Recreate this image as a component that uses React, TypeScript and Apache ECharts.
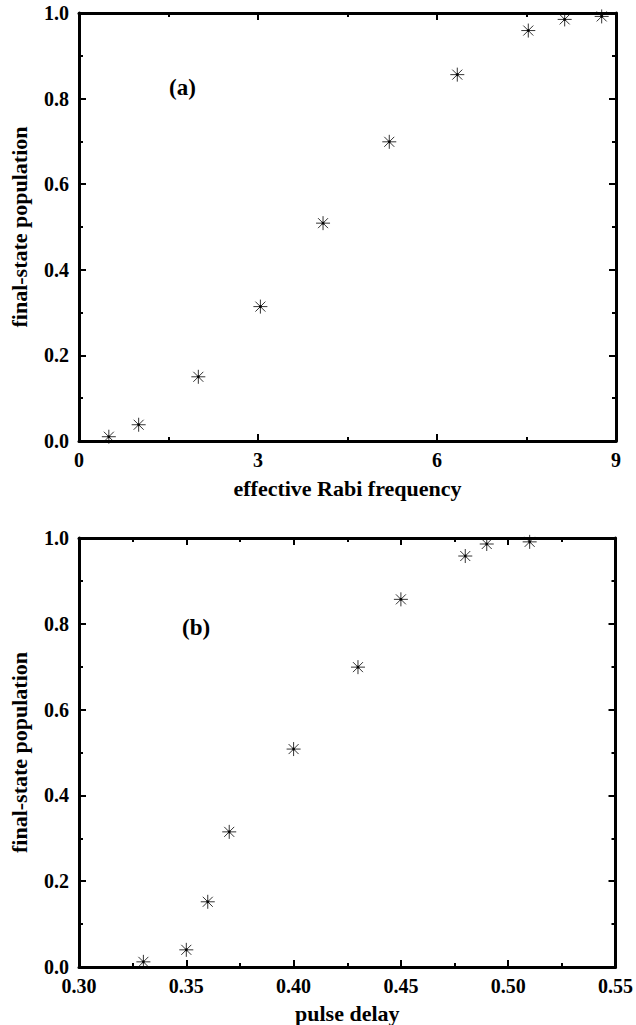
import React, { useEffect, useRef } from "react";
import * as echarts from "echarts";

// Panel (a): effective Rabi frequency vs final-state population
const rabiFrequency = [0.5, 1.0, 2.0, 3.04, 4.09, 5.2, 6.34, 7.53, 8.14, 8.76];
const populationA = [0.01, 0.038, 0.15, 0.314, 0.509, 0.699, 0.856, 0.959, 0.985, 0.992];

// Panel (b): pulse delay vs final-state population
const pulseDelay = [0.33, 0.35, 0.36, 0.37, 0.4, 0.43, 0.45, 0.48, 0.49, 0.51];
const populationB = [0.012, 0.04, 0.152, 0.315, 0.508, 0.699, 0.857, 0.958, 0.986, 0.991];

const xTicksA = { min: 0, max: 9, interval: 3 };
const xTicksB = { min: 0.3, max: 0.55, interval: 0.05 };
const yTicks = { min: 0, max: 1, interval: 0.2 };

const FONT = "'Liberation Serif', 'Times New Roman', serif";
const STAR = "path://M0,-7L0,7M-7,0L7,0M-5,-5L5,5M-5,5L5,-5";

export default function App() {
  const ref = useRef<HTMLDivElement>(null);

  useEffect(() => {
    document.body.style.margin = "0";
    if (!ref.current) return;
    const chart = echarts.init(ref.current, undefined, { renderer: "svg" });

    const axisLine = { show: true, onZero: false, lineStyle: { color: "#000", width: 3 } };
    const axisTick = { show: true, inside: true, length: 7, lineStyle: { color: "#000", width: 2 } };
    const minorTick = { show: true, splitNumber: 2, length: 4, lineStyle: { color: "#000", width: 2 } };
    const label = { color: "#000", fontFamily: FONT, fontWeight: "bold" as const, fontSize: 20 };
    const nameStyle = { color: "#000", fontFamily: FONT, fontWeight: "bold" as const, fontSize: 22 };

    const xAxisBase = (gi: number, t: any, pos: string, show: boolean, fmt?: (v: number) => string, name?: string, gap?: number) => ({
      type: "value",
      gridIndex: gi,
      position: pos,
      min: t.min,
      max: t.max,
      interval: t.interval,
      axisLine,
      axisTick,
      minorTick,
      splitLine: { show: false },
      minorSplitLine: { show: false },
      axisLabel: show ? { ...label, margin: 9, formatter: fmt } : { show: false },
      name: name,
      nameLocation: "middle",
      nameGap: gap,
      nameTextStyle: nameStyle,
    });
    const yAxisBase = (gi: number, pos: string, show: boolean, name?: string) => ({
      type: "value",
      gridIndex: gi,
      position: pos,
      min: yTicks.min,
      max: yTicks.max,
      interval: yTicks.interval,
      axisLine,
      axisTick,
      minorTick,
      splitLine: { show: false },
      minorSplitLine: { show: false },
      axisLabel: show ? { ...label, margin: 10, formatter: (v: number) => v.toFixed(1) } : { show: false },
      name: name,
      nameLocation: "middle",
      nameGap: 49,
      nameTextStyle: nameStyle,
    });

    const starSeries = (xi: number, yi: number, xs: number[], ys: number[]) => [
      {
        type: "scatter",
        xAxisIndex: xi,
        yAxisIndex: yi,
        data: xs.map((x, i) => [x, ys[i]]),
        symbol: STAR,
        symbolSize: 14,
        itemStyle: { color: "rgba(0,0,0,0)", borderColor: "#000", borderWidth: 1 },
        silent: true,
      },
      {
        type: "scatter",
        xAxisIndex: xi,
        yAxisIndex: yi,
        data: xs.map((x, i) => [x, ys[i]]),
        symbol: "circle",
        symbolSize: 3,
        itemStyle: { color: "#000" },
        silent: true,
      },
    ];

    chart.setOption({
      animation: false,
      backgroundColor: "#fff",
      grid: [
        { left: 79, top: 13, width: 537, height: 428, containLabel: false },
        { left: 79, top: 538, width: 537, height: 429, containLabel: false },
      ],
      xAxis: [
        xAxisBase(0, xTicksA, "bottom", true, (v: number) => String(v), "effective Rabi frequency", 36),
        xAxisBase(0, xTicksA, "top", false),
        xAxisBase(1, xTicksB, "bottom", true, (v: number) => v.toFixed(2), "pulse delay", 35),
        xAxisBase(1, xTicksB, "top", false),
      ],
      yAxis: [
        yAxisBase(0, "left", true, "final-state population"),
        yAxisBase(0, "right", false),
        yAxisBase(1, "left", true, "final-state population"),
        yAxisBase(1, "right", false),
      ],
      series: [
        ...starSeries(0, 0, rabiFrequency, populationA),
        ...starSeries(2, 2, pulseDelay, populationB),
      ],
      graphic: [
        {
          type: "text",
          left: 169,
          top: 76,
          style: { text: "(a)", fill: "#000", font: `bold 23px ${FONT}` },
        },
        {
          type: "text",
          left: 182,
          top: 616,
          style: { text: "(b)", fill: "#000", font: `bold 23px ${FONT}` },
        },
      ],
    });

    return () => chart.dispose();
  }, []);

  return (
    <div
      ref={ref}
      style={{ position: "absolute", left: 0, top: 0, width: 636, height: 1025, background: "#fff" }}
    />
  );
}
